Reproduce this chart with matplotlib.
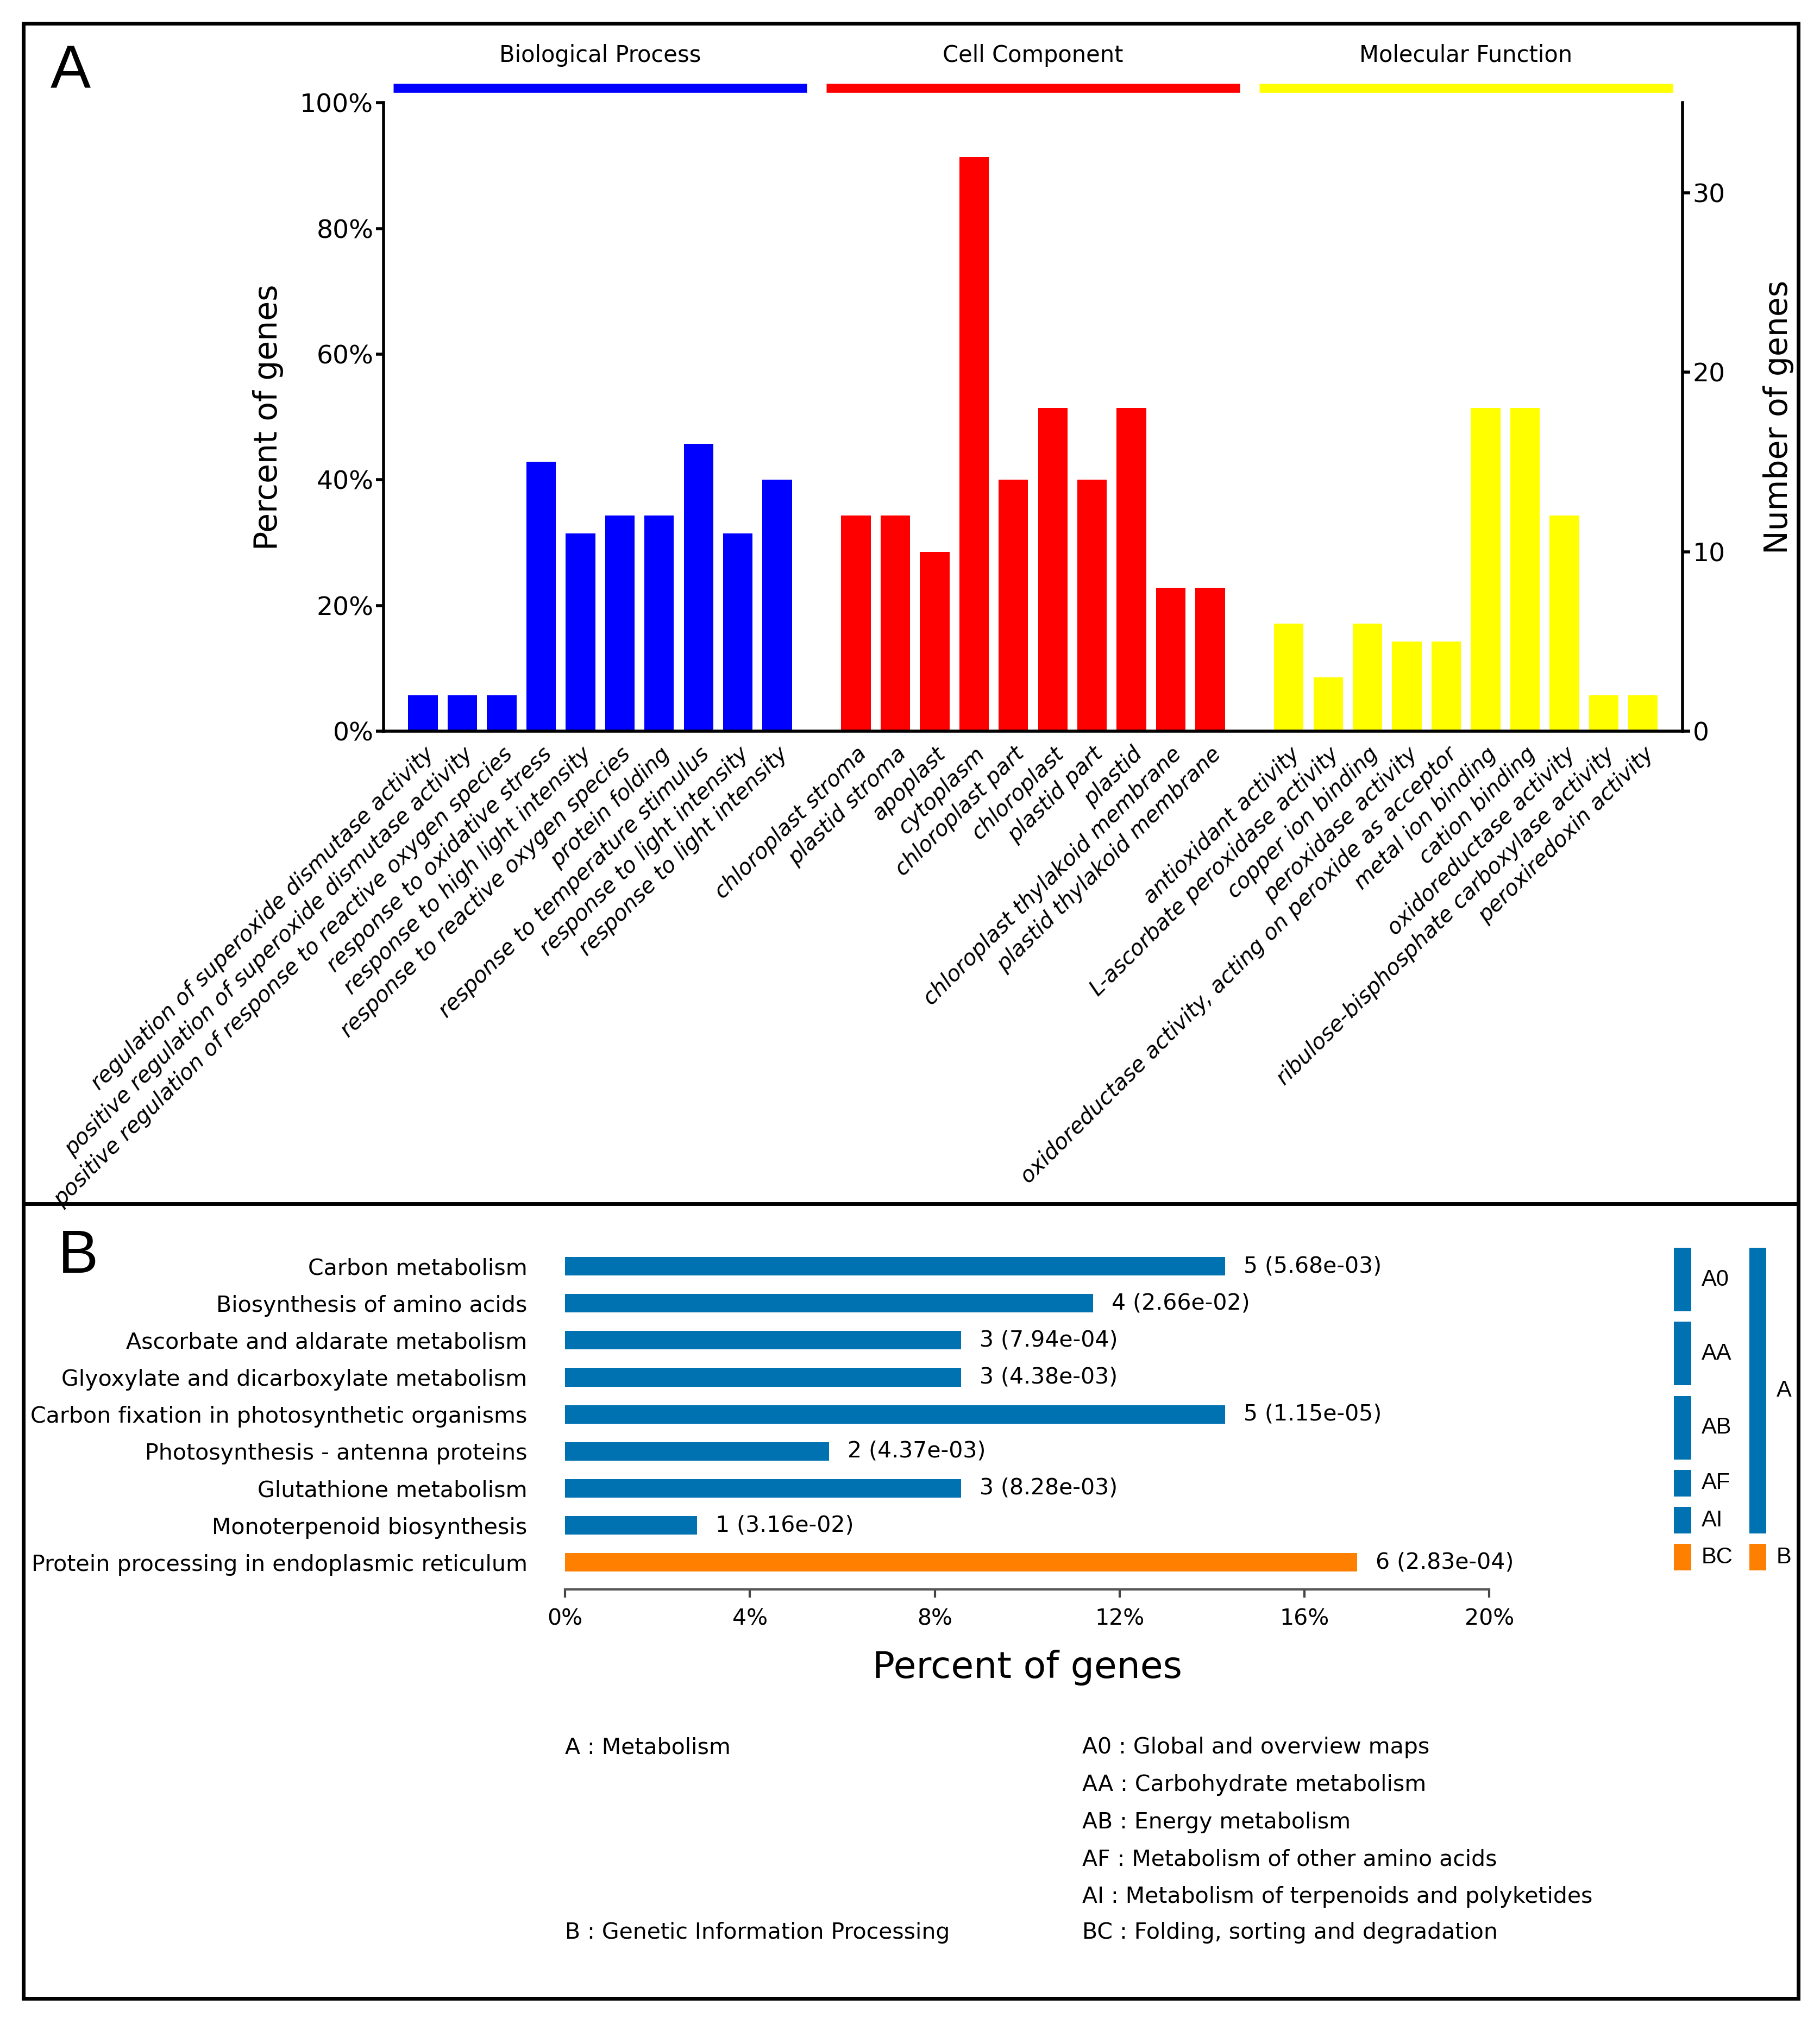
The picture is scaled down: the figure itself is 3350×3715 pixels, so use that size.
import numpy as np
import matplotlib
matplotlib.use("Agg")
import matplotlib.pyplot as plt
import matplotlib.transforms as mtransforms
from matplotlib.patches import Rectangle
from matplotlib.lines import Line2D

# ---- panel A data (GO terms) ----
total_genes = 35

bp_terms = ["regulation of superoxide dismutase activity",
            "positive regulation of superoxide dismutase activity",
            "positive regulation of response to reactive oxygen species",
            "response to oxidative stress",
            "response to high light intensity",
            "response to reactive oxygen species",
            "protein folding",
            "response to temperature stimulus",
            "response to light intensity",
            "response to light intensity"]
bp_counts = [2, 2, 2, 15, 11, 12, 12, 16, 11, 14]

cc_terms = ["chloroplast stroma", "plastid stroma", "apoplast", "cytoplasm",
            "chloroplast part", "chloroplast", "plastid part", "plastid",
            "chloroplast thylakoid membrane", "plastid thylakoid membrane"]
cc_counts = [12, 12, 10, 32, 14, 18, 14, 18, 8, 8]

mf_terms = ["antioxidant activity",
            "L-ascorbate peroxidase activity",
            "copper ion binding",
            "peroxidase activity",
            "oxidoreductase activity, acting on peroxide as acceptor",
            "metal ion binding",
            "cation binding",
            "oxidoreductase activity",
            "ribulose-bisphosphate carboxylase activity",
            "peroxiredoxin activity"]
mf_counts = [6, 3, 6, 5, 5, 18, 18, 12, 2, 2]

group_names = ["Biological Process", "Cell Component", "Molecular Function"]
group_colors = ["#0000ff", "#ff0000", "#ffff00"]

# ---- panel B data (KEGG pathways) ----
kegg_paths = ["Carbon metabolism",
              "Biosynthesis of amino acids",
              "Ascorbate and aldarate metabolism",
              "Glyoxylate and dicarboxylate metabolism",
              "Carbon fixation in photosynthetic organisms",
              "Photosynthesis - antenna proteins",
              "Glutathione metabolism",
              "Monoterpenoid biosynthesis",
              "Protein processing in endoplasmic reticulum"]
kegg_counts = [5, 4, 3, 3, 5, 2, 3, 1, 6]
kegg_pvals = ["5.68e-03", "2.66e-02", "7.94e-04", "4.38e-03", "1.15e-05",
              "4.37e-03", "8.28e-03", "3.16e-02", "2.83e-04"]
kegg_class = ["A", "A", "A", "A", "A", "A", "A", "A", "B"]

sub_names = ["A0", "AA", "AB", "AF", "AI", "BC"]
sub_first = [0, 2, 4, 6, 7, 8]
sub_last = [1, 3, 5, 6, 7, 8]
top_names = ["A", "B"]
top_first = [0, 8]
top_last = [7, 8]

legend_left = ["A : Metabolism", "B : Genetic Information Processing"]
legend_right = ["A0 : Global and overview maps",
                "AA : Carbohydrate metabolism",
                "AB : Energy metabolism",
                "AF : Metabolism of other amino acids",
                "AI : Metabolism of terpenoids and polyketides",
                "BC : Folding, sorting and degradation"]

blue_b = "#0072b2"
orange_b = "#ff7f00"
class_colors = {"A": blue_b, "B": orange_b}

plt.rcParams['font.family'] = ['DejaVu Sans']

fig = plt.figure(figsize=(33.5, 37.15), dpi=100)

# ================= panel A =================
axA = fig.add_axes([0.2108, 0.6377, 0.7136, 0.3113])
all_counts = [bp_counts, cc_counts, mf_counts]
all_terms = [bp_terms, cc_terms, mf_terms]
xpos_all = []
labels_all = []
for g in range(3):
    xs = np.arange(10) + g * 11
    pct = np.array(all_counts[g]) / total_genes * 100
    axA.bar(xs, pct, width=0.75, color=group_colors[g])
    xpos_all.extend(xs)
    labels_all.extend(all_terms[g])
    # group header line + name
    trans = mtransforms.blended_transform_factory(axA.transData, axA.transAxes)
    axA.plot([xs[0] - 0.75, xs[-1] + 0.75], [1.0238, 1.0238], transform=trans,
             color=group_colors[g], lw=12, solid_capstyle='butt', clip_on=False)
    axA.text((xs[0] + xs[-1]) / 2, 1.0757, group_names[g], transform=trans,
             ha='center', va='center', fontsize=30)

axA.set_xlim(-1, 32)
axA.set_ylim(0, 100)
axA.set_yticks([0, 20, 40, 60, 80, 100])
axA.set_yticklabels([f"{v}%" for v in [0, 20, 40, 60, 80, 100]])
axA.set_xticks(xpos_all)
axA.set_xticklabels(labels_all, rotation=45, ha='right', va='top',
                    rotation_mode='anchor', fontstyle='italic', fontsize=29)
axA.tick_params(axis='x', length=0, pad=16)
axA.tick_params(axis='y', labelsize=34, length=10, width=4)
axA.set_ylabel("Percent of genes", fontsize=42, labelpad=22)
for s in ['top', 'right']:
    axA.spines[s].set_visible(False)
for s in ['left', 'bottom']:
    axA.spines[s].set_linewidth(4)

axR = axA.twinx()
axR.set_ylim(0, total_genes)
axR.set_yticks([0, 10, 20, 30])
axR.tick_params(axis='y', labelsize=34, length=10, width=4)
for s in ['top', 'left', 'bottom']:
    axR.spines[s].set_visible(False)
axR.spines['right'].set_linewidth(4)
axR.set_ylabel("Number of genes", fontsize=42, labelpad=50)

# ================= panel B =================
axB = fig.add_axes([0.3105, 0.2124, 0.5078, 0.1693])
kegg_pct = np.array(kegg_counts) / total_genes * 100
ys = np.arange(len(kegg_paths))
axB.barh(ys, kegg_pct, height=0.5, color=[class_colors[c] for c in kegg_class])
for i in range(len(kegg_paths)):
    axB.annotate(f"{kegg_counts[i]} ({kegg_pvals[i]})", xy=(kegg_pct[i], ys[i]),
                 xytext=(24, 0), textcoords='offset points', va='center', fontsize=29.5)
axB.set_ylim(8.73, -0.5)
axB.set_xlim(0, 20)
axB.set_yticks(ys)
axB.set_yticklabels(kegg_paths, fontsize=29.6)
axB.tick_params(axis='y', length=0, pad=50)
axB.set_xticks([0, 4, 8, 12, 16, 20])
axB.set_xticklabels([f"{v}%" for v in [0, 4, 8, 12, 16, 20]], fontsize=29.5)
axB.tick_params(axis='x', length=11, width=3, color='#444444', pad=14)
axB.set_xlabel("Percent of genes", fontsize=49, labelpad=26)
for s in ['top', 'right', 'left']:
    axB.spines[s].set_visible(False)
axB.spines['bottom'].set_color('#555555')
axB.spines['bottom'].set_linewidth(3)

# class bars on the right
axC = fig.add_axes([3040 / 3350, 0.2124, 290 / 3350, 0.1693])
axC.set_ylim(8.73, -0.5)
axC.set_xlim(-0.413, 1.688)
axC.axis('off')
for name, f, l in zip(sub_names, sub_first, sub_last):
    h = l - f + 1 - 0.28
    axC.bar(0, h, bottom=f - 0.5, width=0.225, color=class_colors[name[0]])
    axC.text(0.254, f - 0.5 + h / 2, name, va='center', ha='left', fontsize=30,
             family='Liberation Sans')
for name, f, l in zip(top_names, top_first, top_last):
    h = l - f + 1 - 0.28
    axC.bar(1, h, bottom=f - 0.5, width=0.225, color=class_colors[name])
    axC.text(1.25, f - 0.5 + h / 2, name, va='center', ha='left', fontsize=30,
             family='Liberation Sans')

# legend text
left_y = [0.1340, 0.0423]
right_y = [0.1340, 0.1155, 0.0969, 0.0786, 0.0600, 0.0423]
for t, y in zip(legend_left, left_y):
    fig.text(0.3105, y, t, fontsize=29.5, va='center', ha='left')
for t, y in zip(legend_right, right_y):
    fig.text(0.5947, y, t, fontsize=29.5, va='center', ha='left')

# panel letters and frame
fig.text(0.0278, 0.9642, "A", fontsize=80, va='center', ha='left', family='Liberation Sans')
fig.text(0.0320, 0.3771, "B", fontsize=80, va='center', ha='left', family='Liberation Sans')
fig.add_artist(Rectangle((0.0128, 0.0097), 0.9752, 0.9787, transform=fig.transFigure,
                         fill=False, lw=5, edgecolor='black'))
fig.add_artist(Line2D([0.0128, 0.988], [0.4035, 0.4035], transform=fig.transFigure,
                      lw=5, color='black'))

fig.savefig("out.png", dpi=100)
